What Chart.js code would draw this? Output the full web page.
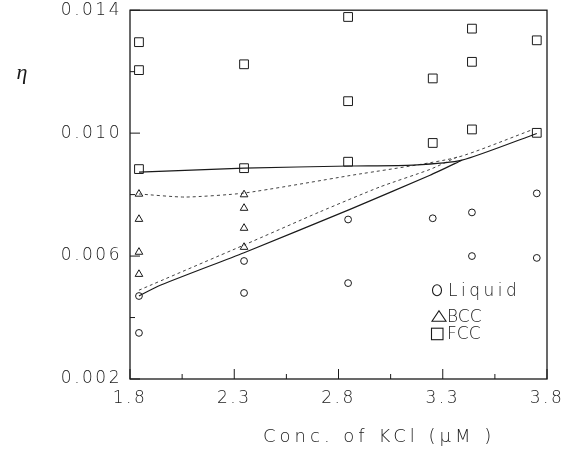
<!DOCTYPE html>
<html>
<head>
<meta charset="utf-8">
<script src="https://cdn.jsdelivr.net/npm/chart.js@4.4.1/dist/chart.umd.min.js"></script>
<style>
  html, body { margin: 0; padding: 0; background: #fff; }
  #wrap { width: 574px; height: 450px; }
</style>
</head>
<body>
<div id="wrap"><canvas id="c" width="574" height="450"></canvas></div>
<script>
// ---- data ----
const xTickValues = [1.8, 2.3, 2.8, 3.3, 3.8];
const xTickLabels = ['1.8', '2.3', '2.8', '3.3', '3.8'];
const xMinorTicks = [2.05, 2.55, 3.05, 3.55];
const yTickValues = [0.002, 0.006, 0.010, 0.014];
const yTickLabels = ['0.002', '0.006', '0.010', '0.014'];
const yMinorTicks = [0.004, 0.008, 0.012];

const liquidX = [1.843, 1.843, 2.347, 2.347, 2.846, 2.846, 3.252, 3.44, 3.44, 3.751, 3.751];
const liquidY = [0.0047, 0.0035, 0.00584, 0.0048, 0.00719, 0.00512, 0.00723, 0.00742, 0.0060, 0.00804, 0.00594];

const bccX = [1.843, 1.843, 1.843, 1.843, 2.347, 2.347, 2.347, 2.347];
const bccY = [0.00802, 0.0072, 0.00613, 0.00541, 0.0080, 0.00756, 0.00691, 0.00629];

const fccX = [1.843, 1.843, 1.843, 2.347, 2.347, 2.846, 2.846, 2.846, 3.252, 3.252, 3.44, 3.44, 3.44, 3.751, 3.751];
const fccY = [0.01296, 0.01205, 0.00883, 0.01224, 0.00886, 0.01378, 0.01104, 0.00907, 0.01178, 0.00968, 0.0134, 0.01232, 0.01012, 0.01302, 0.01001];

const solidUpperX = [1.843, 2.347, 2.855, 3.157, 3.392, 3.751];
const solidUpperY = [0.00873, 0.00886, 0.00893, 0.00896, 0.00912, 0.00999];
const solidLowerX = [1.843, 1.934, 2.347, 2.855, 3.239, 3.392];
const solidLowerY = [0.00470, 0.00502, 0.00611, 0.00752, 0.00863, 0.00912];
const dashUpperX = [1.843, 2.064, 2.347, 2.855, 3.368, 3.733];
const dashUpperY = [0.00802, 0.00792, 0.00805, 0.00862, 0.00921, 0.01012];
const dashLowerX = [1.843, 2.347, 2.711, 2.999, 3.239, 3.368];
const dashLowerY = [0.00489, 0.00636, 0.00744, 0.00825, 0.00882, 0.00922];

const legendLabels = ['Liquid', 'BCC', 'FCC'];
const xTitle = 'Conc. of KCl (\u03BCM )';
const yTitle = '\u03B7';

// ---- build ----
const pts = (xs, ys) => xs.map((x, i) => ({ x: x, y: ys[i] }));
const INK = '#1a1a1a';
const FONT = '"DejaVu Sans", sans-serif';

function lineSet(xs, ys, dashed) {
  return {
    type: 'line', data: pts(xs, ys), showLine: true, fill: false,
    borderColor: dashed ? '#444' : INK, borderWidth: dashed ? 1 : 1.2,
    borderDash: dashed ? [3, 3] : [], pointRadius: 0, tension: 0.2
  };
}
function markSet(xs, ys, style, r) {
  return {
    type: 'scatter', data: pts(xs, ys), pointStyle: style, pointRadius: r,
    pointBorderColor: INK, pointBackgroundColor: 'rgba(0,0,0,0)', pointBorderWidth: 1,
    showLine: false
  };
}

const axisPlugin = {
  id: 'axisPlugin',
  beforeDraw(chart) {
    const { ctx, width, height } = chart;
    ctx.save();
    ctx.fillStyle = '#fff';
    ctx.fillRect(0, 0, width, height);
    ctx.restore();
    ctx.letterSpacing = '2.5px';
  },
  afterDraw(chart) {
    const { ctx, chartArea: a, scales } = chart;
    const sx = scales.x, sy = scales.y;
    ctx.save();
    ctx.strokeStyle = INK;
    ctx.lineWidth = 1.3;
    ctx.strokeRect(a.left, a.top, a.right - a.left, a.bottom - a.top);
    ctx.lineWidth = 1;
    const seg = (x1, y1, x2, y2) => { ctx.beginPath(); ctx.moveTo(x1, y1); ctx.lineTo(x2, y2); ctx.stroke(); };
    xTickValues.forEach(v => { const p = sx.getPixelForValue(v); seg(p, a.bottom, p, a.bottom - 10); });
    xMinorTicks.forEach(v => { const p = sx.getPixelForValue(v); seg(p, a.bottom, p, a.bottom - 5); });
    yTickValues.forEach(v => { const p = sy.getPixelForValue(v); seg(a.left, p, a.left + 10, p); });
    yMinorTicks.forEach(v => { const p = sy.getPixelForValue(v); seg(a.left, p, a.left + 5, p); });

    // axis titles
    ctx.fillStyle = INK;
    ctx.textBaseline = 'middle';
    ctx.letterSpacing = '4px';
    ctx.font = '300 18px ' + FONT;
    ctx.textAlign = 'left';
    ctx.fillText(xTitle, a.left + 133, a.bottom + 58);
    ctx.letterSpacing = '0px';
    ctx.font = 'italic 22px "Liberation Serif", serif';
    ctx.textAlign = 'center';
    ctx.fillText(yTitle, a.left - 108, a.top + 63);

    // legend
    const lx = a.left + 307, ly = a.top + 280;
    ctx.lineWidth = 1.1;
    ctx.strokeStyle = INK;
    ctx.beginPath(); ctx.ellipse(lx, ly, 4.5, 5.5, 0, 0, Math.PI * 2); ctx.stroke();
    const ty = ly + 26;
    ctx.beginPath(); ctx.moveTo(lx + 2, ty - 5.5); ctx.lineTo(lx + 9, ty + 5); ctx.lineTo(lx - 5, ty + 5); ctx.closePath(); ctx.stroke();
    const qy = ly + 43.5;
    ctx.strokeRect(lx - 5.5, qy - 5.5, 11.5, 11.5);
    ctx.textAlign = 'left';
    ctx.font = '300 17px ' + FONT;
    ctx.letterSpacing = '3.5px';
    ctx.fillText(legendLabels[0], lx + 11, ly + 1);
    ctx.letterSpacing = '0px';
    ctx.font = '300 17px ' + FONT;
    ctx.fillText(legendLabels[1], lx + 10, ty + 1);
    ctx.fillText(legendLabels[2], lx + 10, qy + 1);
    ctx.restore();
  }
};

new Chart(document.getElementById('c'), {
  type: 'scatter',
  data: {
    datasets: [
      lineSet(solidUpperX, solidUpperY, false),
      lineSet(solidLowerX, solidLowerY, false),
      lineSet(dashUpperX, dashUpperY, true),
      lineSet(dashLowerX, dashLowerY, true),
      markSet(liquidX, liquidY, 'circle', 3.4),
      markSet(bccX, bccY, 'triangle', 4.4),
      markSet(fccX, fccY, 'rect', 6.2)
    ]
  },
  options: {
    responsive: false,
    animation: false,
    layout: { padding: { left: 0, top: 10, right: 27, bottom: 0 } },
    plugins: { legend: { display: false }, tooltip: { enabled: false } },
    scales: {
      x: {
        type: 'linear', min: 1.8, max: 3.8,
        afterBuildTicks: s => { s.ticks = xTickValues.map(v => ({ value: v })); },
        afterFit: s => { s.height = 71; },
        grid: { display: false },
        border: { display: false },
        ticks: {
          autoSkip: false, maxRotation: 0, padding: 1, color: INK,
          font: { family: FONT, size: 17, weight: '300' },
          callback: (v, i) => xTickLabels[i]
        }
      },
      y: {
        type: 'linear', min: 0.002, max: 0.014,
        afterBuildTicks: s => { s.ticks = yTickValues.map(v => ({ value: v })); },
        afterFit: s => { s.width = 130; },
        grid: { display: false },
        border: { display: false },
        ticks: {
          autoSkip: false, padding: 0, color: INK,
          font: { family: FONT, size: 17, weight: '300' },
          callback: (v, i) => yTickLabels[i]
        }
      }
    }
  },
  plugins: [axisPlugin]
});
</script>
</body>
</html>
